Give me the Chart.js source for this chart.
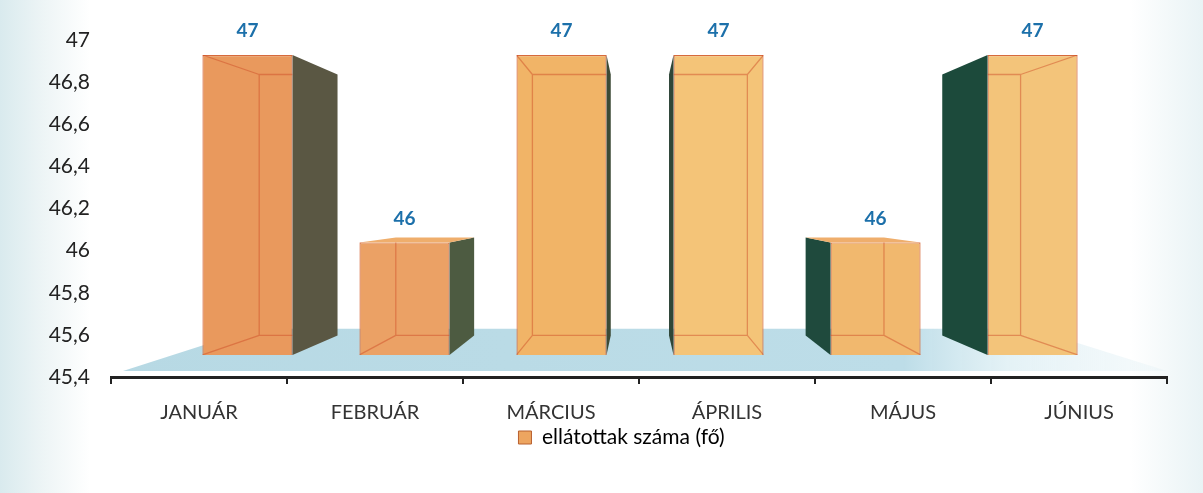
<!DOCTYPE html>
<html>
<head>
<meta charset="utf-8">
<script src="https://cdn.jsdelivr.net/npm/chart.js@4"></script>
<style>
  html, body { margin: 0; padding: 0; }
  body {
    width: 1203px; height: 493px; overflow: hidden;
    background: linear-gradient(to right, #d9eaee 0px, #eef5f6 45px, #ffffff 90px, #ffffff 1130px, #e9f3f5 1203px);
  }
  #wrap { position: relative; width: 1203px; height: 493px; }
</style>
</head>
<body>
<div id="wrap"><canvas id="chart" width="1203" height="493"></canvas></div>
<script>
// Data
const months = ["JANUÁR", "FEBRUÁR", "MÁRCIUS", "ÁPRILIS", "MÁJUS", "JÚNIUS"];
const served = [47, 46, 47, 47, 46, 47];
const seriesName = "ellátottak száma (fő)";

// Looks
const frontColors = ["#e9995d", "#eba165", "#f1b467", "#f4c478", "#f1b86e", "#f3c47a"];
const sideColors = ["#5a5743", "#4d5b41", "#3c4a36", "#2f4638", "#1f4a3d", "#1c4a3b"];
const FONT = "Lato";

// fake 3D: vanishing point, depth of bars and floor
const VP = { x: 639, y: 205 };
const DEPTH = 0.13;
const FLOOR_DEPTH = 0.255;

function back(p, t) {
  return { x: p.x + t * (VP.x - p.x), y: p.y + t * (VP.y - p.y) };
}

function poly(ctx, pts, fill) {
  ctx.beginPath();
  ctx.moveTo(pts[0].x, pts[0].y);
  for (let i = 1; i < pts.length; i++) ctx.lineTo(pts[i].x, pts[i].y);
  ctx.closePath();
  ctx.fillStyle = fill;
  ctx.fill();
}

// legend sits a bit right of centre in the original
const legendShift = {
  id: "legendShift",
  afterLayout(chart) {
    chart.legend.left += 38;
    chart.legend.right += 38;
  }
};

// floor under the bars
const floorPlugin = {
  id: "floor",
  beforeDatasetsDraw(chart) {
    const a = chart.chartArea;
    const ctx = chart.ctx;
    const fl = { x: a.left + 12, y: a.bottom - 6 };
    const fr = { x: a.right, y: a.bottom - 6 };
    const bl = back(fl, FLOOR_DEPTH), br = back(fr, FLOOR_DEPTH);
    const g = ctx.createLinearGradient(a.left, 0, a.right, 0);
    g.addColorStop(0, "#b7d9e4");
    g.addColorStop(0.75, "#bddde8");
    g.addColorStop(0.85, "rgba(210,233,240,0.6)");
    g.addColorStop(1, "rgba(225,240,245,0.3)");
    ctx.save();
    poly(ctx, [fl, fr, br, bl], g);
    ctx.restore();
  }
};

// sides, tops, see-through edges and value labels
const boxPlugin = {
  id: "box3d",
  afterDatasetsDraw(chart) {
    const ctx = chart.ctx;
    const meta = chart.getDatasetMeta(0);
    ctx.save();
    meta.data.forEach((bar, i) => {
      const p = bar.getProps(["x", "y", "base", "width"], true);
      const L = p.x - p.width / 2, R = p.x + p.width / 2, T = p.y, B = p.base;
      const tl = { x: L, y: T }, tr = { x: R, y: T }, bl = { x: L, y: B }, br = { x: R, y: B };
      const btl = back(tl, DEPTH), btr = back(tr, DEPTH), bbl = back(bl, DEPTH), bbr = back(br, DEPTH);

      if (R < VP.x) poly(ctx, [tr, btr, bbr, br], sideColors[i]);
      if (L > VP.x) poly(ctx, [tl, btl, bbl, bl], sideColors[i]);
      if (T > VP.y) poly(ctx, [tl, tr, btr, btl], "#efae6c");

      // hidden edges showing through the face
      ctx.save();
      ctx.beginPath();
      ctx.rect(L, T, R - L, B - T);
      ctx.clip();
      ctx.strokeStyle = "rgba(205,70,35,0.45)";
      ctx.lineWidth = 1.3;
      ctx.beginPath();
      ctx.moveTo(btl.x, btl.y); ctx.lineTo(btr.x, btr.y); ctx.lineTo(bbr.x, bbr.y);
      ctx.lineTo(bbl.x, bbl.y); ctx.closePath();
      ctx.moveTo(tl.x, tl.y); ctx.lineTo(btl.x, btl.y);
      ctx.moveTo(bl.x, bl.y); ctx.lineTo(bbl.x, bbl.y);
      ctx.moveTo(tr.x, tr.y); ctx.lineTo(btr.x, btr.y);
      ctx.moveTo(br.x, br.y); ctx.lineTo(bbr.x, bbr.y);
      ctx.stroke();
      ctx.restore();

      ctx.fillStyle = "#1c70aa";
      ctx.font = "bold 19px " + FONT;
      ctx.textAlign = "center";
      ctx.textBaseline = "middle";
      ctx.fillText(String(served[i]), p.x, T - 24);
    });
    ctx.restore();
  }
};

const ctx = document.getElementById("chart").getContext("2d");
new Chart(ctx, {
  type: "bar",
  data: {
    labels: months,
    datasets: [{
      label: seriesName,
      data: served.map((v, i) => ({ x: i, y: v })),
      xAxisID: "xb",
      yAxisID: "yb",
      base: 45.4,
      backgroundColor: c => frontColors[c.dataIndex] || "#eda560",
      borderColor: "#d66a3c",
      borderWidth: 1.2,
      categoryPercentage: 1,
      barPercentage: 0.67
    }]
  },
  options: {
    responsive: false,
    animation: false,
    layout: { padding: { top: 40, right: 36, bottom: 35, left: 0 } },
    plugins: {
      legend: {
        position: "bottom",
        labels: {
          boxWidth: 13, boxHeight: 13,
          color: "#222",
          font: { family: FONT, size: 21 },
          padding: 6,
          generateLabels: () => [{
            text: seriesName, fillStyle: "#eda560", strokeStyle: "#b8602f", lineWidth: 1
          }]
        }
      },
      tooltip: { enabled: false }
    },
    scales: {
      x: {
        type: "category",
        position: "bottom",
        grid: { display: true, drawOnChartArea: false, offset: true, tickLength: 7, color: "#222", lineWidth: 2 },
        border: { display: true, color: "#222", width: 3 },
        ticks: { color: "#333", font: { family: FONT, size: 20 }, padding: 17, maxRotation: 0 },
        afterFit: s => { s.height = 44; }
      },
      y: {
        type: "linear",
        position: "left",
        min: 45.4, max: 47,
        grid: { display: false, drawTicks: false },
        border: { display: false },
        ticks: {
          stepSize: 0.2,
          color: "#222",
          font: { family: FONT, size: 21 },
          padding: 21,
          callback: v => Number(v).toFixed(1).replace(".0", "").replace(".", ",")
        },
        afterFit: s => { s.width = 111; }
      },
      // hidden scales for the bars, set deeper in the 3D box
      xb: { type: "linear", display: false, offset: false, min: -0.869, max: 5.856 },
      yb: { type: "linear", display: false, min: 45.282, max: 47.08 }
    }
  },
  plugins: [legendShift, floorPlugin, boxPlugin]
});
</script>
</body>
</html>
